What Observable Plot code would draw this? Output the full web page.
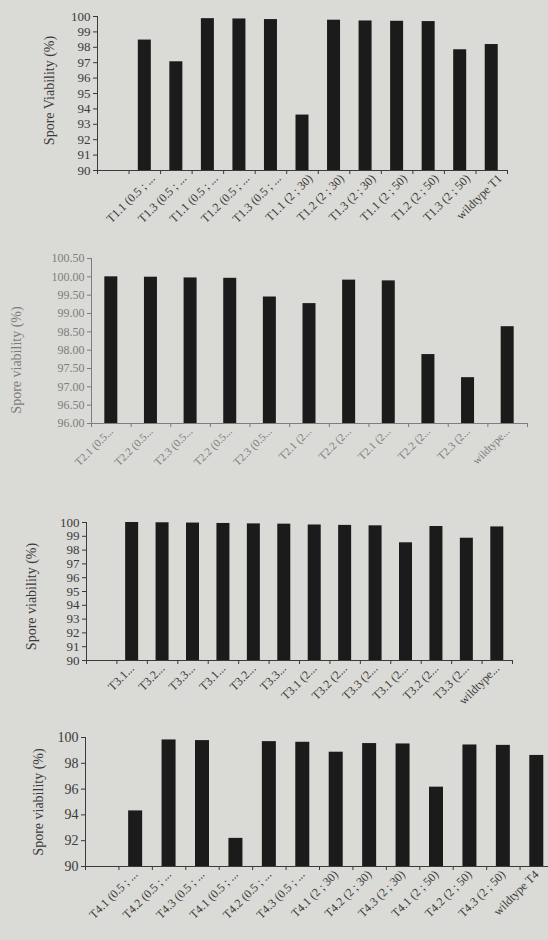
<!DOCTYPE html>
<html><head><meta charset="utf-8">
<script src="https://cdn.jsdelivr.net/npm/d3@7"></script>
<script src="https://cdn.jsdelivr.net/npm/@observablehq/plot@0.6"></script>
<style>
html,body{margin:0;padding:0;width:548px;height:940px;overflow:hidden;background:#dadad6;}
#wrap{position:relative;width:548px;height:940px;overflow:hidden;}
.panel{position:absolute;left:0;}
</style></head><body><div id="wrap"></div>
<script>
// ---- Chart 1 (T1) ----
const labels1 = ["", "T1.1 (0.5 ; ...", "T1.3 (0.5 ; ...", "T1.1 (0.5 ; ...", "T1.2 (0.5 ; ...", "T1.3 (0.5 ; ...",
  "T1.1 (2 ; 30)", "T1.2 (2 ; 30)", "T1.3 (2 ; 30)", "T1.1 (2 ; 50)", "T1.2 (2 ; 50)", "T1.3 (2 ; 50)", "wildtype T1"];
const values1 = [null, 98.47, 97.06, 99.86, 99.84, 99.80, 93.60, 99.76, 99.71, 99.69, 99.67, 97.84, 98.18];
const yTicks1 = [90, 91, 92, 93, 94, 95, 96, 97, 98, 99, 100];

// ---- Chart 2 (T2) ----
const labels2 = ["T2.1 (0.5...", "T2.2 (0.5...", "T2.3 (0.5...", "T2.2 (0.5...", "T2.3 (0.5...",
  "T2.1 (2...", "T2.2 (2...", "T2.1 (2...", "T2.2 (2...", "T2.3 (2...", "wildtype..."];
const values2 = [100.00, 99.99, 99.97, 99.96, 99.45, 99.27, 99.91, 99.89, 97.88, 97.25, 98.64];
const yTicks2 = [96.0, 96.5, 97.0, 97.5, 98.0, 98.5, 99.0, 99.5, 100.0, 100.5];

// ---- Chart 3 (T3) ----
const labels3 = ["", "T3.1...", "T3.2...", "T3.3...", "T3.1...", "T3.2...", "T3.3...",
  "T3.1 (2...", "T3.2 (2...", "T3.3 (2...", "T3.1 (2...", "T3.2 (2...", "T3.3 (2...", "wildtype..."];
const values3 = [null, 100.00, 99.98, 99.96, 99.93, 99.90, 99.88, 99.82, 99.79, 99.76, 98.53, 99.71, 98.86, 99.68];
const yTicks3 = [90, 91, 92, 93, 94, 95, 96, 97, 98, 99, 100];

// ---- Chart 4 (T4) ----
const labels4 = ["", "T4.1 (0.5 ; ...", "T4.2 (0.5 ; ...", "T4.3 (0.5 ; ...", "T4.1 (0.5 ; ...", "T4.2 (0.5 ; ...", "T4.3 (0.5 ; ...",
  "T4.1 (2 ; 30)", "T4.2 (2 ; 30)", "T4.3 (2 ; 30)", "T4.1 (2 ; 50)", "T4.2 (2 ; 50)", "T4.3 (2 ; 50)", "wildtype T4"];
const values4 = [null, 94.31, 99.81, 99.76, 92.18, 99.68, 99.63, 98.86, 99.53, 99.50, 96.15, 99.42, 99.39, 98.61];
const yTicks4 = [90, 92, 94, 96, 98, 100];

const barColor = "#1b1b1b";

function makeChart(cfg) {
  const {top, height, width = 548, left, right, yTop, yBottom, yDomain, yTicks, yFormat,
    labels, values, barWidth, fontY, fontX, color, title, titleX, titleDy, titleSize, xRotate = -45, xPad = 6, xDx = 0} = cfg;
  const n = labels.length;
  const data = values.map((v, i) => ({i, v})).filter(d => d.v != null);
  const slot = (right - left) / n;
  const inset = (slot - barWidth) / 2;
  const centers = labels.map((l, i) => i + 0.5).filter((c, i) => labels[i] !== "");
  const plot = Plot.plot({
    width, height,
    marginTop: yTop - top,
    marginBottom: top + height - yBottom,
    marginLeft: left,
    marginRight: width - right,
    x: {domain: [0, n], axis: null},
    y: {domain: yDomain, axis: null},
    style: {background: "transparent", overflow: "visible", maxWidth: "none",
      fontFamily: "'Liberation Serif', 'DejaVu Serif', serif", color},
    marks: [
      Plot.rectY(data, {x1: "i", x2: d => d.i + 1, y1: () => yDomain[0], y2: "v",
        insetLeft: inset, insetRight: inset, fill: barColor}),
      Plot.ruleY([yDomain[0]], {stroke: color, strokeWidth: 1}),
      Plot.ruleX([0], {stroke: color, strokeWidth: 1}),
      Plot.axisY({ticks: yTicks, tickFormat: yFormat, tickSize: 4, tickPadding: 3, fontSize: fontY, label: null}),
      Plot.axisX({ticks: centers, tickSize: 0, tickFormat: v => labels[Math.floor(v)], tickRotate: xRotate,
        fontSize: fontX, label: null, tickPadding: xPad, dx: xDx}),
      Plot.axisX({ticks: d3.range(n + 1), tickSize: 4, tickFormat: () => "", label: null}),
      Plot.text([title], {frameAnchor: "left", rotate: -90, dx: titleX - left, dy: titleDy,
        fontSize: titleSize, textAnchor: "middle", text: d => d, fill: color})
    ]
  });
  const div = document.createElement("div");
  div.className = "panel";
  div.style.top = top + "px";
  div.appendChild(plot);
  document.getElementById("wrap").appendChild(div);
}

makeChart({top: 0, height: 232, left: 97, right: 507, yTop: 16, yBottom: 170,
  yDomain: [90, 100], yTicks: yTicks1, yFormat: d3.format("d"),
  labels: labels1, values: values1, barWidth: 13, fontY: 13, fontX: 12, color: "#3a3a3a",
  title: "Spore Viability (%)", titleX: 49, titleDy: -3, titleSize: 14, xDx: 8});

makeChart({top: 232, height: 228, left: 91, right: 527, yTop: 258, yBottom: 423,
  yDomain: [96, 100.5], yTicks: yTicks2, yFormat: d3.format(".2f"),
  labels: labels2, values: values2, barWidth: 13, fontY: 12, fontX: 11, color: "#7d7d7d",
  title: "Spore viability (%)", titleX: 16, titleDy: 19, titleSize: 14});

makeChart({top: 460, height: 240, left: 86, right: 512, yTop: 522, yBottom: 660,
  yDomain: [90, 100], yTicks: yTicks3, yFormat: d3.format("d"),
  labels: labels3, values: values3, barWidth: 13, fontY: 13, fontX: 12, color: "#3a3a3a",
  title: "Spore viability (%)", titleX: 31, titleDy: 5, titleSize: 14});

makeChart({top: 700, height: 240, width: 560, left: 85, right: 553, yTop: 737, yBottom: 866,
  yDomain: [90, 100], yTicks: yTicks4, yFormat: d3.format("d"),
  labels: labels4, values: values4, barWidth: 14, fontY: 14, fontX: 12, color: "#3a3a3a",
  title: "Spore viability (%)", titleX: 38, titleDy: 0, titleSize: 14});
</script>
</body></html>
